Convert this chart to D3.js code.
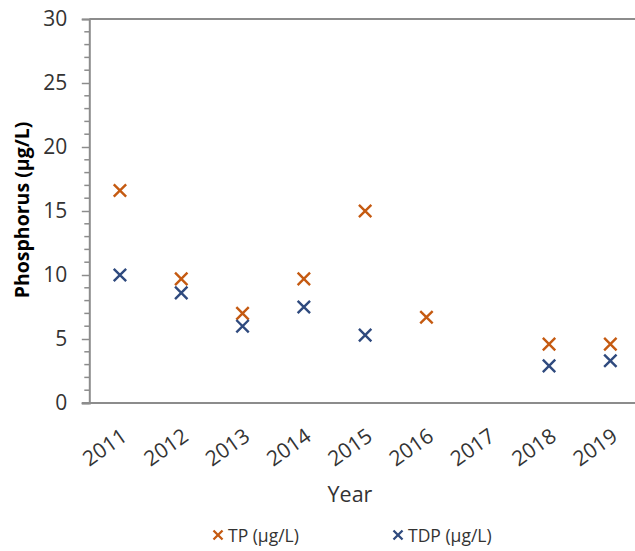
<!DOCTYPE html>
<html>
<head>
<meta charset="utf-8">
<script src="https://cdn.jsdelivr.net/npm/d3@7"></script>
<style>
  html, body { margin: 0; padding: 0; background: #fff; }
  svg { display: block; }
</style>
</head>
<body>
<svg id="chart" width="635" height="551"></svg>
<script>
const years = ["2011", "2012", "2013", "2014", "2015", "2016", "2017", "2018", "2019"];
const tpValues = [16.6, 9.7, 7.0, 9.7, 15.0, 6.7, null, 4.6, 4.6];
const tdpValues = [10.0, 8.6, 6.0, 7.5, 5.3, null, null, 2.9, 3.3];
const yTicks = [0, 5, 10, 15, 20, 25, 30];
const seriesNames = ["TP (µg/L)", "TDP (µg/L)"];
const seriesColors = ["#C55A11", "#2F4A7E"];

const svg = d3.select("#chart");
const font = "'Open Sans', 'Liberation Sans', sans-serif";
const plotLeft = 89.3, plotRight = 641, plotTop = 19, plotBottom = 403;

const x = d3.scaleBand().domain(years).range([plotLeft, plotRight]).paddingInner(0).paddingOuter(0);
const y = d3.scaleLinear().domain([0, 30]).range([plotBottom, plotTop]);

const axisColor = "#8C8C8C";

// top border line
svg.append("line")
  .attr("x1", plotLeft).attr("x2", 635).attr("y1", y(30)).attr("y2", y(30))
  .attr("stroke", axisColor).attr("stroke-width", 2);

// minor ticks
const minor = d3.range(0, 31, 1).filter(v => v % 5 !== 0);
svg.append("g").selectAll("line").data(minor).join("line")
  .attr("x1", plotLeft - 5).attr("x2", plotLeft).attr("y1", d => y(d)).attr("y2", d => y(d))
  .attr("stroke", axisColor).attr("stroke-width", 1.5);

// y axis
const yAxis = svg.append("g").attr("transform", `translate(${plotLeft},0)`)
  .call(d3.axisLeft(y).tickValues(yTicks).tickSize(7.5).tickPadding(14.5).tickFormat(d3.format("d")));
yAxis.select(".domain").attr("stroke", axisColor).attr("stroke-width", 2);
yAxis.selectAll(".tick line").attr("stroke", axisColor).attr("stroke-width", 1.5);
yAxis.selectAll(".tick text").attr("font-family", font).attr("font-size", 21).attr("fill", "#333");

// x axis
const xAxis = svg.append("g").attr("transform", `translate(0,${plotBottom})`)
  .call(d3.axisBottom(x).tickSize(0).tickFormat(""));
xAxis.select(".domain").attr("stroke", axisColor).attr("stroke-width", 2).attr("d", `M${plotLeft - 7.5},0H635`);

svg.append("g").selectAll("text").data(years).join("text")
  .attr("transform", d => `translate(${x(d) + x.bandwidth() / 2},${plotBottom + 24}) rotate(-35)`)
  .attr("text-anchor", "end")
  .attr("dy", "0.72em")
  .attr("font-family", font).attr("font-size", 21).attr("fill", "#333")
  .text(d => d);

// markers
const sym = d3.symbol().type(d3.symbolX).size(102);
[tpValues, tdpValues].forEach((vals, si) => {
  svg.append("g").selectAll("path")
    .data(years.map((yr, i) => ({ yr, v: vals[i] })).filter(d => d.v !== null))
    .join("path")
    .attr("d", sym)
    .attr("transform", d => `translate(${x(d.yr) + x.bandwidth() / 2},${y(d.v)})`)
    .attr("fill", "none")
    .attr("stroke", seriesColors[si])
    .attr("stroke-width", 2.4);
});

// axis titles
svg.append("text")
  .attr("transform", `translate(29,210) rotate(-90)`)
  .attr("text-anchor", "middle")
  .attr("font-family", font).attr("font-size", 19.5).attr("font-weight", "bold").attr("fill", "#000")
  .text("Phosphorus (µg/L)");

svg.append("text")
  .attr("x", 350).attr("y", 502)
  .attr("text-anchor", "middle")
  .attr("font-family", font).attr("font-size", 21.5).attr("fill", "#333")
  .text("Year");

// legend
const legendX = [218, 398];
const legSym = d3.symbol().type(d3.symbolX).size(55);
seriesNames.forEach((name, i) => {
  const g = svg.append("g").attr("transform", `translate(${legendX[i]},535)`);
  g.append("path").attr("d", legSym).attr("fill", "none")
    .attr("stroke", seriesColors[i]).attr("stroke-width", 2.3);
  g.append("text").attr("x", 10).attr("y", 7)
    .attr("font-family", font).attr("font-size", 17.5).attr("fill", "#333")
    .text(name);
});
</script>
</body>
</html>
